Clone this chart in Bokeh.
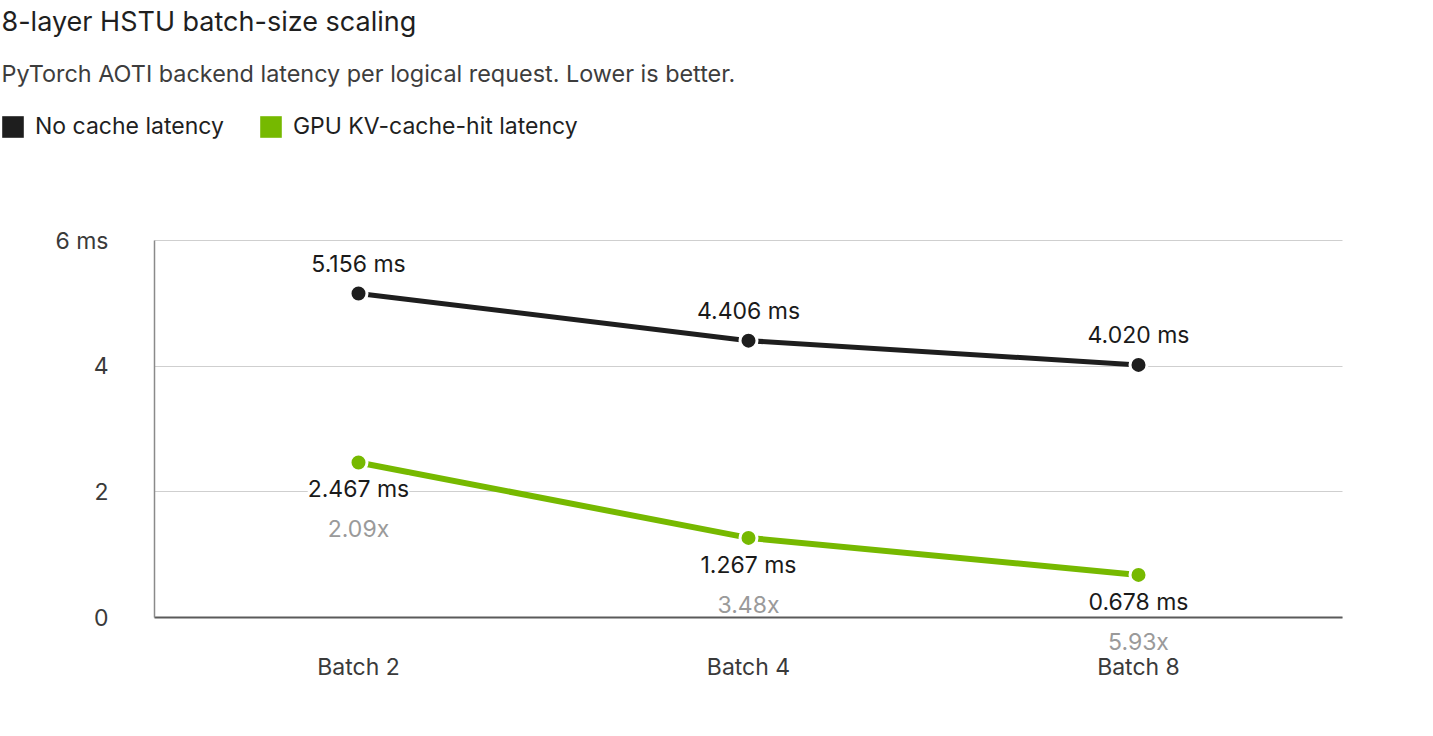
from bokeh.plotting import figure
from bokeh.models import (ColumnDataSource, Range1d, FixedTicker, LabelSet, Label,
                          Legend, LegendItem, Grid, Quad)
from bokeh.embed import file_html
from bokeh.resources import INLINE
from bokeh.core.properties import value

# ---------------- data ----------------
categories = ["Batch 2", "Batch 4", "Batch 8"]
no_cache_ms = [5.156, 4.406, 4.020]
kv_hit_ms = [2.467, 1.267, 0.678]
y_ticks = [0, 2, 4, 6]
y_tick_labels = {6: "6 ms"}
series_names = ["No cache latency", "GPU KV-cache-hit latency"]
title_text = "8-layer HSTU batch-size scaling"
subtitle_text = "PyTorch AOTI backend latency per logical request. Lower is better."

# ---------------- layout / style ----------------
FONT = "Inter"
BLACK = "#1e1e1e"
GREEN = "#76b900"
FS = "23px"
W, H = 1417, 720
# plot area in page pixels
PL, PR, PT, PB = 154, 1342, 240, 617
STEP = 390.0                    # px between categories
X0 = 358.0                      # px of first category
PX_PER_MS = (PB - PT) / 6.0

x_idx = list(range(len(categories)))
src = ColumnDataSource(dict(
    x=x_idx,
    no_cache=no_cache_ms,
    kv=kv_hit_ms,
    no_cache_lbl=[f"{v:.3f} ms" for v in no_cache_ms],
    kv_lbl=[f"{v:.3f} ms" for v in kv_hit_ms],
    ratio_lbl=[f"{a / b:.2f}x" for a, b in zip(no_cache_ms, kv_hit_ms)],
))


def dx(px):
    return (px - X0) / STEP


def dy(py):
    return (PB - py) / PX_PER_MS


p = figure(width=W, height=H,
           x_range=Range1d(dx(0), dx(W)),
           y_range=Range1d(dy(H), dy(0)),
           output_backend="svg", toolbar_location=None,
           min_border_left=0, min_border_right=0,
           min_border_top=0, min_border_bottom=0,
           x_axis_location="below", y_axis_location="left")
p.outline_line_color = None
p.background_fill_color = "white"
p.border_fill_color = "white"

# grid
p.xgrid.visible = False
p.ygrid.ticker = FixedTicker(ticks=y_ticks)
p.ygrid.grid_line_color = "#cfcfcf"
p.ygrid.grid_line_width = 1
if "cross_bounds" in Grid.properties():
    p.ygrid.cross_bounds = (dx(PL), dx(PR))

# y axis (pinned at the left edge of the plot area)
yax = p.yaxis[0]
yax.fixed_location = dx(PL)
yax.bounds = (0, 6)
yax.ticker = FixedTicker(ticks=y_ticks)
yax.major_label_overrides = y_tick_labels
yax.axis_line_color = "#8a8a8a"
yax.axis_line_width = 1.5
yax.major_tick_line_color = None
yax.minor_tick_line_color = None
yax.major_label_standoff = 40
yax.major_label_text_font = FONT
yax.major_label_text_font_size = FS
yax.major_label_text_color = "#3a3a3a"

# x axis (pinned at 0 ms)
xax = p.xaxis[0]
xax.fixed_location = 0
xax.bounds = (dx(PL), dx(PR))
xax.ticker = FixedTicker(ticks=x_idx)
xax.major_label_overrides = {i: c for i, c in zip(x_idx, categories)}
xax.axis_line_color = "#5a5a5a"
xax.axis_line_width = 2
xax.major_tick_line_color = None
xax.minor_tick_line_color = None
xax.major_label_standoff = 29
xax.major_label_text_font = FONT
xax.major_label_text_font_size = FS
xax.major_label_text_color = "#3a3a3a"

# series
p.line("x", "no_cache", source=src, line_color=BLACK, line_width=5)
p.scatter("x", "no_cache", source=src, size=17, fill_color=BLACK,
          line_color="white", line_width=3)
p.line("x", "kv", source=src, line_color=GREEN, line_width=6)
p.scatter("x", "kv", source=src, size=17, fill_color=GREEN,
          line_color="white", line_width=3)

# value labels
p.add_layout(LabelSet(x="x", y="no_cache", text="no_cache_lbl", source=src,
                      y_offset=30, text_align="center", text_baseline="middle",
                      text_font=value(FONT), text_font_size=FS,
                      text_color="#1a1a1a"))
p.add_layout(LabelSet(x="x", y="kv", text="kv_lbl", source=src,
                      y_offset=-27, text_align="center", text_baseline="middle",
                      text_font=value(FONT), text_font_size=FS,
                      text_color="#1a1a1a", background_fill_color="white"))
p.add_layout(LabelSet(x="x", y="kv", text="ratio_lbl", source=src,
                      y_offset=-67, text_align="center", text_baseline="middle",
                      text_font=value(FONT), text_font_size=FS,
                      text_color="#9a9a9a"))

# header texts
p.add_layout(Label(x=dx(1), y=dy(21), text=title_text, text_baseline="middle",
                   text_font=FONT, text_font_size="27px", text_color="#1f1f1f"))
p.add_layout(Label(x=dx(1), y=dy(73), text=subtitle_text, text_baseline="middle",
                   text_font=FONT, text_font_size="23.4px", text_color="#3d3d3d"))

# legend (swatch renderers hold a single NaN row so nothing is drawn in the plot)
nan = float("nan")
quad_kw = {}
if "border_radius" in Quad.properties():
    quad_kw["border_radius"] = 5
q1 = p.quad(left=[nan], right=[nan], top=[nan], bottom=[nan],
            fill_color=BLACK, line_color=None, **quad_kw)
q2 = p.quad(left=[nan], right=[nan], top=[nan], bottom=[nan],
            fill_color=GREEN, line_color=None, **quad_kw)
legend = Legend(items=[LegendItem(label=series_names[0], renderers=[q1]),
                       LegendItem(label=series_names[1], renderers=[q2])],
                orientation="horizontal", location=(-1, H - 140),
                padding=0, margin=0, spacing=33, label_standoff=9,
                glyph_width=27, glyph_height=27, label_height=27,
                label_text_font=FONT, label_text_font_size=FS,
                label_text_color="#1f1f1f",
                border_line_color=None, background_fill_alpha=0)
p.add_layout(legend)

open("out.html", "w").write(file_html(p, INLINE))
